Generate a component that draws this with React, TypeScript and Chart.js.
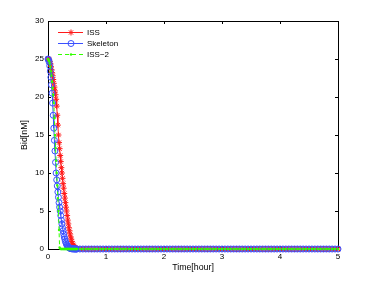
import React, { useEffect, useRef } from 'react';
import { Chart, registerables } from 'chart.js';

Chart.register(...registerables);

// ---- data ----
const dropTimes = [
  0, 0.01, 0.02, 0.03, 0.04, 0.05, 0.06, 0.07, 0.08, 0.09,
  0.1, 0.11, 0.12, 0.13, 0.14, 0.15, 0.16, 0.17, 0.18, 0.19,
  0.2, 0.21, 0.22, 0.23, 0.24, 0.25, 0.26, 0.27, 0.28, 0.29,
  0.3, 0.31, 0.32, 0.33, 0.34, 0.35, 0.36, 0.37, 0.38, 0.39,
  0.4, 0.41, 0.42, 0.43, 0.44, 0.45, 0.46, 0.47, 0.48, 0.49,
  0.5,
];
const tailTimes = [
  0.55, 0.6, 0.65, 0.7, 0.75, 0.8, 0.85, 0.9, 0.95, 1,
  1.05, 1.1, 1.15, 1.2, 1.25, 1.3, 1.35, 1.4, 1.45, 1.5,
  1.55, 1.6, 1.65, 1.7, 1.75, 1.8, 1.85, 1.9, 1.95, 2,
  2.05, 2.1, 2.15, 2.2, 2.25, 2.3, 2.35, 2.4, 2.45, 2.5,
  2.55, 2.6, 2.65, 2.7, 2.75, 2.8, 2.85, 2.9, 2.95, 3,
  3.05, 3.1, 3.15, 3.2, 3.25, 3.3, 3.35, 3.4, 3.45, 3.5,
  3.55, 3.6, 3.65, 3.7, 3.75, 3.8, 3.85, 3.9, 3.95, 4,
  4.05, 4.1, 4.15, 4.2, 4.25, 4.3, 4.35, 4.4, 4.45, 4.5,
  4.55, 4.6, 4.65, 4.7, 4.75, 4.8, 4.85, 4.9, 4.95, 5,
];
const issDrop = [
  25.0, 25.0, 24.9, 24.7, 24.4, 24.0, 23.6, 23.2, 22.8, 22.3,
  21.8, 21.3, 20.8, 20.3, 19.7, 18.8, 17.6, 16.3, 15.0, 14.0,
  13.2, 12.3, 11.5, 10.7, 10.0, 9.3, 8.6, 8.0, 7.3, 6.7,
  6.1, 5.5, 5.0, 4.4, 3.8, 3.3, 2.8, 2.4, 2.0, 1.6,
  1.3, 1.0, 0.75, 0.55, 0.4, 0.28, 0.2, 0.14, 0.1, 0.07,
  0.05,
];
const skeletonDrop = [
  25.0, 24.9, 24.6, 24.1, 23.4, 22.6, 21.6, 20.5, 19.2, 17.6,
  15.9, 14.3, 12.9, 11.4, 10.0, 9.1, 8.3, 7.5, 6.8, 6.1,
  5.5, 5.0, 4.4, 3.8, 3.3, 2.8, 2.4, 2.0, 1.6, 1.3,
  1.0, 0.8, 0.6, 0.45, 0.35, 0.25, 0.18, 0.13, 0.09, 0.06,
  0.04, 0.03, 0.02, 0.02, 0.01, 0.01, 0.01, 0, 0, 0,
  0,
];
const iss2Drop = [
  25.0, 24.9, 24.7, 24.4, 24.0, 23.4, 22.8, 22.0, 21.2, 20.3,
  19.2, 17.2, 15.0, 13.3, 11.6, 10.0, 8.4, 6.7, 5.0, 2.5,
  0.2, 0.05, 0, 0, 0, 0, 0, 0, 0, 0,
  0, 0, 0, 0, 0, 0, 0, 0, 0, 0,
  0, 0, 0, 0, 0, 0, 0, 0, 0, 0,
  0,
];
const tailBid = [
  0, 0, 0, 0, 0, 0, 0, 0, 0, 0,
  0, 0, 0, 0, 0, 0, 0, 0, 0, 0,
  0, 0, 0, 0, 0, 0, 0, 0, 0, 0,
  0, 0, 0, 0, 0, 0, 0, 0, 0, 0,
  0, 0, 0, 0, 0, 0, 0, 0, 0, 0,
  0, 0, 0, 0, 0, 0, 0, 0, 0, 0,
  0, 0, 0, 0, 0, 0, 0, 0, 0, 0,
  0, 0, 0, 0, 0, 0, 0, 0, 0, 0,
  0, 0, 0, 0, 0, 0, 0, 0, 0, 0,
];
const xTicks = [0, 1, 2, 3, 4, 5];
const yTicks = [0, 5, 10, 15, 20, 25, 30];
const seriesNames = ['ISS', 'Skeleton', 'ISS\u22122'];
const xTitle = 'Time[hour]';
const yTitle = 'Bid[nM]';

const FONT_FAMILY = '"Liberation Sans", Arial, Helvetica, sans-serif';
const RED = '#ff1a1a';
const BLUE = '#3a50ff';
const GREEN = '#33ff00';

function toPoints(vals: number[]) {
  const times = dropTimes.concat(tailTimes);
  const ys = vals.concat(tailBid);
  return times.map((t, i) => ({ x: t, y: ys[i] }));
}

const matlabPlugin = {
  id: 'matlabFrame',
  beforeDatasetsDraw(chart: any) {
    const { ctx, chartArea, scales } = chart;
    const { left, right, top, bottom } = chartArea;
    ctx.save();
    ctx.strokeStyle = '#000';
    ctx.lineWidth = 1;
    ctx.beginPath();
    ctx.rect(Math.round(left) + 0.5, Math.round(top) + 0.5, Math.round(right - left), Math.round(bottom - top));
    ctx.stroke();
    const tl = 3;
    ctx.beginPath();
    xTicks.forEach((v) => {
      const px = Math.round(scales.x.getPixelForValue(v)) + 0.5;
      ctx.moveTo(px, bottom);
      ctx.lineTo(px, bottom - tl);
      ctx.moveTo(px, top);
      ctx.lineTo(px, top + tl);
    });
    yTicks.forEach((v) => {
      const py = Math.round(scales.y.getPixelForValue(v)) + 0.5;
      ctx.moveTo(left, py);
      ctx.lineTo(left + tl, py);
      ctx.moveTo(right, py);
      ctx.lineTo(right - tl, py);
    });
    ctx.stroke();
    ctx.restore();
  },
  afterDraw(chart: any) {
    const { ctx, chartArea } = chart;
    const { left, right, top, bottom } = chartArea;
    ctx.save();
    ctx.fillStyle = '#000';
    ctx.font = `8.8px ${FONT_FAMILY}`;
    ctx.textAlign = 'center';
    ctx.textBaseline = 'middle';
    ctx.fillText(xTitle, (left + right) / 2, bottom + 19);
    ctx.save();
    ctx.translate(left - 23, (top + bottom) / 2);
    ctx.rotate(-Math.PI / 2);
    ctx.fillText(yTitle, 0, 0);
    ctx.restore();

    // legend
    ctx.font = `8px ${FONT_FAMILY}`;
    const rows = [
      { color: RED, dash: [] as number[], marker: 'star' },
      { color: BLUE, dash: [] as number[], marker: 'circle' },
      { color: GREEN, dash: [4, 3], marker: 'dot' },
    ];
    const lx0 = left + 10;
    const lx1 = left + 35;
    const mx = left + 23;
    rows.forEach((r, i) => {
      const y = top + 11.5 + i * 11;
      ctx.strokeStyle = r.color;
      ctx.fillStyle = r.color;
      ctx.lineWidth = 1;
      ctx.setLineDash(r.dash);
      ctx.beginPath();
      ctx.moveTo(lx0, y);
      ctx.lineTo(lx1, y);
      ctx.stroke();
      ctx.setLineDash([]);
      if (r.marker === 'star') {
        const rr = 3;
        ctx.beginPath();
        ctx.moveTo(mx - rr, y); ctx.lineTo(mx + rr, y);
        ctx.moveTo(mx, y - rr); ctx.lineTo(mx, y + rr);
        const d = rr * 0.7071;
        ctx.moveTo(mx - d, y - d); ctx.lineTo(mx + d, y + d);
        ctx.moveTo(mx - d, y + d); ctx.lineTo(mx + d, y - d);
        ctx.stroke();
      } else if (r.marker === 'circle') {
        ctx.beginPath();
        ctx.arc(mx, y, 3, 0, Math.PI * 2);
        ctx.stroke();
      } else {
        ctx.beginPath();
        ctx.arc(mx, y, 1.2, 0, Math.PI * 2);
        ctx.fill();
      }
      ctx.fillStyle = '#000';
      ctx.textAlign = 'left';
      ctx.textBaseline = 'middle';
      ctx.fillText(seriesNames[i], left + 39, y + 0.5);
    });
    ctx.restore();
  },
};

export default function App() {
  const canvasRef = useRef<HTMLCanvasElement | null>(null);

  useEffect(() => {
    document.body.style.margin = '0';
    const canvas = canvasRef.current;
    if (!canvas) return;
    const tickFont = { family: FONT_FAMILY, size: 8 };
    const chart = new Chart(canvas, {
      type: 'line',
      data: {
        datasets: [
          {
            label: seriesNames[0],
            data: toPoints(issDrop),
            borderColor: RED,
            backgroundColor: RED,
            borderWidth: 1,
            pointStyle: 'star',
            pointRadius: 3,
            pointBorderWidth: 1,
            pointBorderColor: RED,
            pointBackgroundColor: 'transparent',
            tension: 0,
            clip: false as any,
            order: 3,
          },
          {
            label: seriesNames[1],
            data: toPoints(skeletonDrop),
            borderColor: BLUE,
            backgroundColor: BLUE,
            borderWidth: 1,
            pointStyle: 'circle',
            pointRadius: 3,
            pointBorderWidth: 1,
            pointBorderColor: BLUE,
            pointBackgroundColor: 'transparent',
            tension: 0,
            clip: false as any,
            order: 2,
          },
          {
            label: seriesNames[2],
            data: toPoints(iss2Drop),
            borderColor: GREEN,
            backgroundColor: GREEN,
            borderWidth: 1,
            borderDash: [4, 3],
            pointStyle: 'circle',
            pointRadius: 1.2,
            pointBorderWidth: 0,
            pointBackgroundColor: GREEN,
            tension: 0,
            clip: false as any,
            order: 1,
          },
        ],
      },
      options: {
        animation: false,
        responsive: false,
        devicePixelRatio: 1,
        layout: { padding: { top: 21, right: 36, left: 0, bottom: 0 } },
        plugins: { legend: { display: false }, tooltip: { enabled: false } },
        scales: {
          x: {
            type: 'linear',
            min: 0,
            max: 5,
            afterBuildTicks: (s: any) => {
              s.ticks = xTicks.map((v) => ({ value: v }));
            },
            afterFit: (s: any) => {
              s.height = 32;
            },
            ticks: { font: tickFont, color: '#000', padding: 3, maxRotation: 0, autoSkip: false },
            grid: { display: false, drawTicks: false },
            border: { display: false },
          },
          y: {
            type: 'linear',
            min: 0,
            max: 30,
            afterBuildTicks: (s: any) => {
              s.ticks = yTicks.map((v) => ({ value: v }));
            },
            afterFit: (s: any) => {
              s.width = 48;
            },
            ticks: { font: tickFont, color: '#000', padding: 4, autoSkip: false },
            grid: { display: false, drawTicks: false },
            border: { display: false },
          },
        },
      } as any,
      plugins: [matlabPlugin],
    });
    return () => chart.destroy();
  }, []);

  return (
    <div style={{ position: 'absolute', left: 0, top: 0, width: 374, height: 281, background: '#fff' }}>
      <canvas ref={canvasRef} width={374} height={281} style={{ width: 374, height: 281 }} />
    </div>
  );
}
